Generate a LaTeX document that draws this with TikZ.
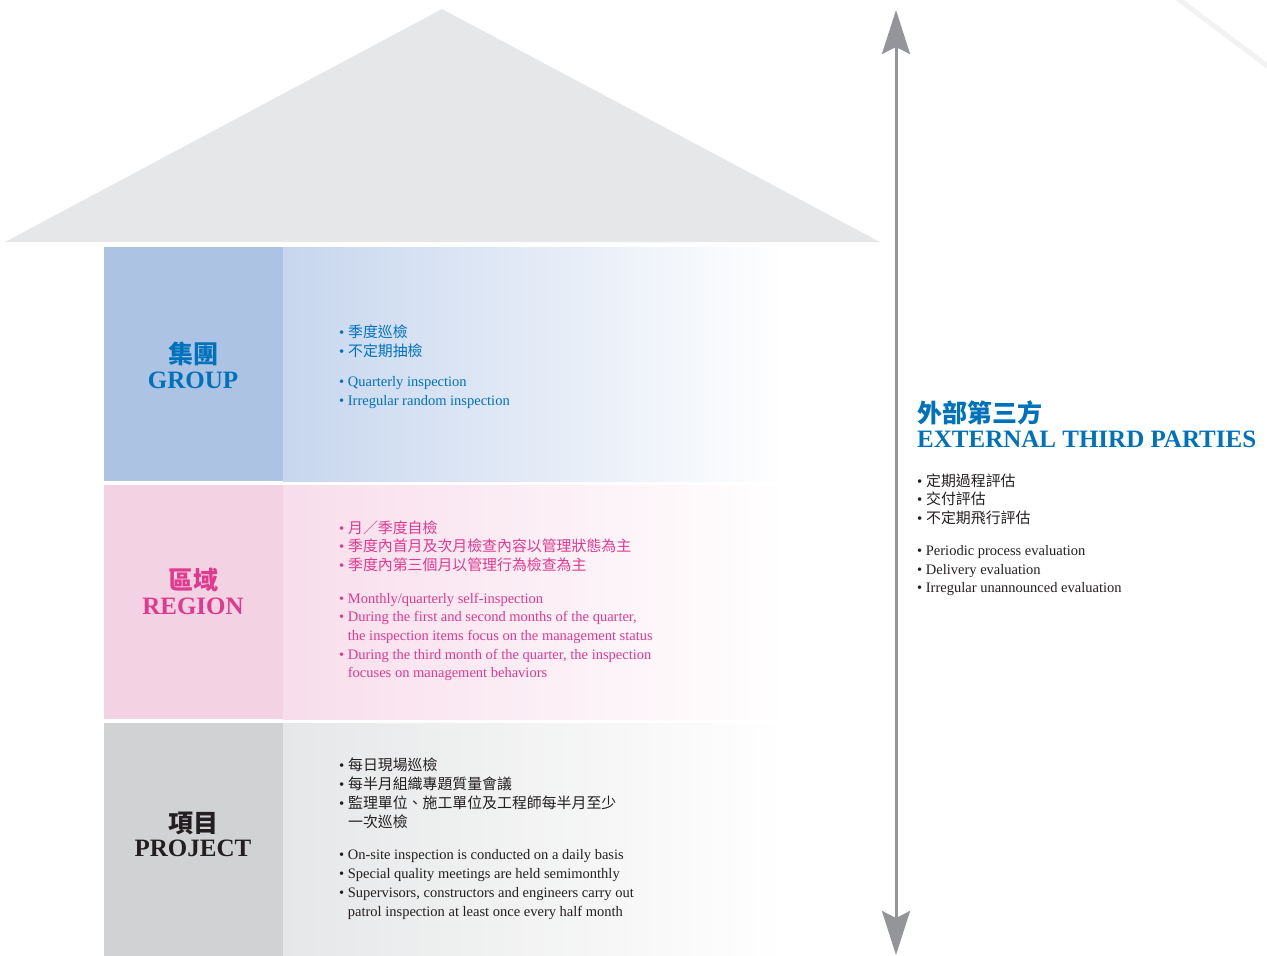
\documentclass[tikz,border=0pt]{standalone}
\usepackage{fontspec}
\setmainfont{Liberation Serif}
\newfontfamily\cjk{Noto Sans CJK TC}
\usetikzlibrary{arrows.meta}

\definecolor{roofgray}{HTML}{E6E7E8}
\definecolor{arrowgray}{HTML}{939598}
\definecolor{qblue}{HTML}{0072BC}
\definecolor{qpink}{HTML}{E03A8E}
\definecolor{qdark}{HTML}{231F20}
\definecolor{groupl}{HTML}{ADC3E3}
\definecolor{groupr}{HTML}{C7D6EE}
\definecolor{regionl}{HTML}{F3D2E3}
\definecolor{regionr}{HTML}{F8DDEB}
\definecolor{projectl}{HTML}{D1D2D4}
\definecolor{projectr}{HTML}{E6E7E8}

\tikzset{
  zh/.style={anchor=base west, inner sep=0pt, font=\cjk\fontsize{14.9}{16}\selectfont},
  en/.style={anchor=base west, inner sep=0pt, font=\fontsize{14.5}{16}\selectfont},
  headzh/.style={anchor=base, inner sep=0pt, font=\cjk\bfseries\fontsize{25}{28}\selectfont},
  heden/.style={anchor=base, inner sep=0pt, font=\bfseries\fontsize{25}{28}\selectfont},
  twoway/.style={line width=3pt, draw=arrowgray,
    {Stealth[length=44pt,width=28pt,inset=7pt]}-{Stealth[length=44pt,width=28pt,inset=7pt]}}
}
\newcommand{\bul}{{\rmfamily\textbullet\ }}

\begin{document}
\begin{tikzpicture}[x=1pt,y=1pt,yscale=-1,xscale=1]
		\useasboundingbox (0,0) rectangle (1267,956);
		
		%Corner line
		\draw [black!5, line width=5pt] (1177,-2) -- (1270,68) ;
		
		%Shape: Triangle (roof)
		\fill [roofgray] (5,242) -- (442,9) -- (880,242) -- cycle ;
		
		%Shape: Rectangles (group)
		\fill [groupl] (104,247) rectangle (283,481) ;
		\shade [left color=groupr, right color=white] (283,247) rectangle (785,481) ;
		%Shape: Rectangles (region)
		\fill [regionl] (104,485) rectangle (283,719) ;
		\shade [left color=regionr, right color=white] (283,485) rectangle (785,719) ;
		%Shape: Rectangles (project)
		\fill [projectl] (104,723) rectangle (283,956) ;
		\shade [left color=projectr, right color=white] (283,723) rectangle (785,956) ;
		
		%Straight Lines: two-way arrow
		\coordinate (top) at (896,10) ;
		\coordinate (bottom) at (896,955) ;
		\draw [twoway] (top) -- (bottom) ;
		
		% Text Node: group
		\node [headzh, text=qblue] (groupzh) at (193,363) {集團};
		\node [heden, text=qblue] (groupen) at (193,388) {GROUP};
		\node [zh, text=qblue] (g1) at (339,337) {\bul 季度巡檢};
		\node [zh, text=qblue] (g2) at (339,356) {\bul 不定期抽檢};
		\node [en, text=qblue] (g3) at (339,386) {\bul Quarterly inspection};
		\node [en, text=qblue] (g4) at (339,405) {\bul Irregular random inspection};
		
		% Text Node: region
		\node [headzh, text=qpink] (regionzh) at (193,589) {區域};
		\node [heden, text=qpink] (regionen) at (193,614) {REGION};
		\node [zh, text=qpink] (r1) at (339,533) {\bul 月／季度自檢};
		\node [zh, text=qpink] (r2) at (339,551.5) {\bul 季度內首月及次月檢查內容以管理狀態為主};
		\node [zh, text=qpink] (r3) at (339,570) {\bul 季度內第三個月以管理行為檢查為主};
		\node [en, text=qpink] (r4) at (339,603) {\bul Monthly/quarterly self-inspection};
		\node [en, text=qpink] (r5) at (339,621.5) {\bul During the first and second months of the quarter,};
		\node [en, text=qpink] (r6) at (339,640) {\hphantom{\bul}the inspection items focus on the management status};
		\node [en, text=qpink] (r7) at (339,659) {\bul During the third month of the quarter, the inspection};
		\node [en, text=qpink] (r8) at (339,677.5) {\hphantom{\bul}focuses on management behaviors};
		
		% Text Node: project
		\node [headzh, text=qdark] (projectzh) at (193,832) {項目};
		\node [heden, text=qdark] (projecten) at (193,856) {PROJECT};
		\node [zh, text=qdark] (p1) at (339,770) {\bul 每日現場巡檢};
		\node [zh, text=qdark] (p2) at (339,789) {\bul 每半月組織專題質量會議};
		\node [zh, text=qdark] (p3) at (339,808) {\bul 監理單位、施工單位及工程師每半月至少};
		\node [zh, text=qdark] (p4) at (339,827) {\hphantom{\bul}一次巡檢};
		\node [en, text=qdark] (p5) at (339,859) {\bul On-site inspection is conducted on a daily basis};
		\node [en, text=qdark] (p6) at (339,878) {\bul Special quality meetings are held semimonthly};
		\node [en, text=qdark] (p7) at (339,897) {\bul Supervisors, constructors and engineers carry out};
		\node [en, text=qdark] (p8) at (339,916) {\hphantom{\bul}patrol inspection at least once every half month};
		
		% Text Node: external third parties
		\node [headzh, anchor=base west, text=qblue] (extzh) at (917,422) {外部第三方};
		\node [heden, anchor=base west, text=qblue] (exten) at (917,447) {EXTERNAL THIRD PARTIES};
		\node [zh, text=qdark] (e1) at (917,486) {\bul 定期過程評估};
		\node [zh, text=qdark] (e2) at (917,504.5) {\bul 交付評估};
		\node [zh, text=qdark] (e3) at (917,523) {\bul 不定期飛行評估};
		\node [en, text=qdark] (e4) at (917,555.5) {\bul Periodic process evaluation};
		\node [en, text=qdark] (e5) at (917,574) {\bul Delivery evaluation};
		\node [en, text=qdark] (e6) at (917,592.5) {\bul Irregular unannounced evaluation};
	\end{tikzpicture}
\end{document}
